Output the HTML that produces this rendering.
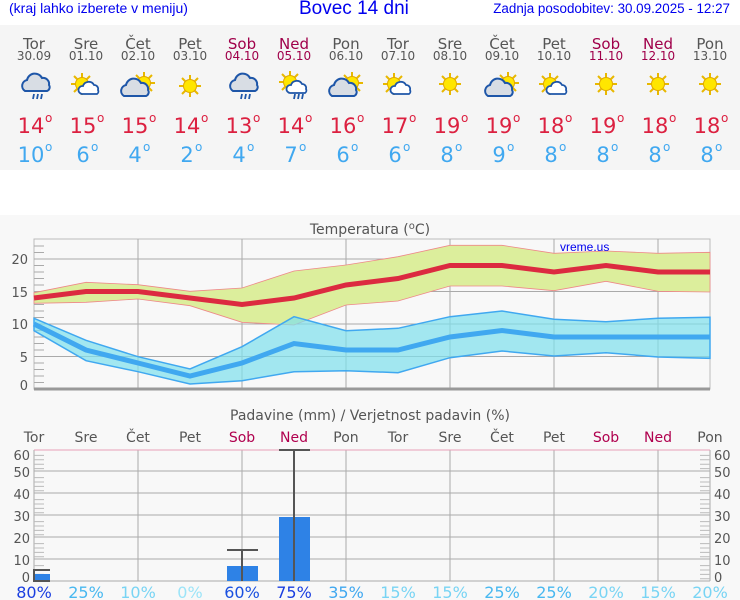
<!DOCTYPE html>
<html><head><meta charset="utf-8"><style>
body{margin:0;width:740px;height:600px;background:#f8f8f8;font-family:"DejaVu Sans","Liberation Sans",sans-serif;overflow:hidden;position:relative}
.top{position:absolute;left:0;top:0;width:740px;height:25px;background:#fff}
.t{position:absolute;white-space:nowrap}
</style></head><body>
<div class="top"></div>
<div class="t" style="left:9px;top:0px;font:14px 'Liberation Sans',sans-serif;color:#0000ee">(kraj lahko izberete v meniju)</div>
<div class="t" style="left:299px;top:-2px;font:19px 'Liberation Sans',sans-serif;color:#0000ee">Bovec 14 dni</div>
<div class="t" style="right:10px;top:1px;font:13.4px 'Liberation Sans',sans-serif;color:#0000ee">Zadnja posodobitev: 30.09.2025 - 12:27</div>
<div class="t" style="left:0;top:170px;width:740px;height:45px;background:#fff"></div>
<svg width="740" height="600" style="position:absolute;left:0;top:0" font-family="DejaVu Sans, Liberation Sans, sans-serif">
<defs>
<g id="sun"><g stroke="#e8b800" stroke-width="2"><line x1="-11" y1="0" x2="11" y2="0"/><line x1="0" y1="-11" x2="0" y2="11"/><line x1="-8" y1="-8" x2="8" y2="8"/><line x1="-8" y1="8" x2="8" y2="-8"/></g><circle r="6.5" fill="#ffe600" stroke="#e0a800"/></g>
<g id="cl"><path d="M-12 6 a6 6 0 0 1 2-11 a8 8 0 0 1 15-2 a6 6 0 0 1 7 7 a4 4 0 0 1-2 6 z" fill="#d8dde4" stroke="#1e56a8" stroke-width="2"/></g>
<g id="scl"><path d="M-8 5 a4 4 0 0 1 1-8 a6 6 0 0 1 11-1 a4 4 0 0 1 4 5 a3 3 0 0 1-1 4 z" fill="#fff" stroke="#1e56a8" stroke-width="1.8"/></g>
<g id="rain"><g stroke="#1e56a8" stroke-width="1.8"><line x1="-3" y1="9" x2="-4" y2="14"/><line x1="1" y1="9" x2="0" y2="14"/><line x1="5" y1="9" x2="4" y2="14"/></g></g>
</defs>
<rect x="0" y="25" width="740" height="145" fill="#f5f5f5"/>
<g font-size="15" fill="#555" text-anchor="middle">
<text x="34" y="49">Tor</text><text x="86" y="49">Sre</text><text x="138" y="49">Čet</text><text x="190" y="49">Pet</text><text x="242" y="49" fill="#a0004a">Sob</text><text x="294" y="49" fill="#a0004a">Ned</text><text x="346" y="49">Pon</text><text x="398" y="49">Tor</text><text x="450" y="49">Sre</text><text x="502" y="49">Čet</text><text x="554" y="49">Pet</text><text x="606" y="49" fill="#a0004a">Sob</text><text x="658" y="49" fill="#a0004a">Ned</text><text x="710" y="49">Pon</text>
</g>
<g font-size="12" fill="#555" text-anchor="middle">
<text x="34" y="60">30.09</text><text x="86" y="60">01.10</text><text x="138" y="60">02.10</text><text x="190" y="60">03.10</text><text x="242" y="60" fill="#a0004a">04.10</text><text x="294" y="60" fill="#a0004a">05.10</text><text x="346" y="60">06.10</text><text x="398" y="60">07.10</text><text x="450" y="60">08.10</text><text x="502" y="60">09.10</text><text x="554" y="60">10.10</text><text x="606" y="60" fill="#a0004a">11.10</text><text x="658" y="60" fill="#a0004a">12.10</text><text x="710" y="60">13.10</text>
</g>
<g transform="translate(37,85)"><use href="#cl"/><use href="#rain"/></g>
<g transform="translate(82,84)"><use href="#sun"/><g transform="translate(8,5)"><use href="#scl"/></g></g>
<g transform="translate(144,83)"><use href="#sun"/></g><g transform="translate(136,90)"><use href="#cl"/></g>
<g transform="translate(190,86)"><use href="#sun"/></g>
<g transform="translate(245,85)"><use href="#cl"/><use href="#rain"/></g>
<g transform="translate(290,82)"><use href="#sun"/><g transform="translate(8,6)"><use href="#scl"/><use href="#rain" transform="translate(0,-3)"/></g></g>
<g transform="translate(352,83)"><use href="#sun"/></g><g transform="translate(344,90)"><use href="#cl"/></g>
<g transform="translate(394,84)"><use href="#sun"/><g transform="translate(8,5)"><use href="#scl"/></g></g>
<g transform="translate(450,84)"><use href="#sun"/></g>
<g transform="translate(508,83)"><use href="#sun"/></g><g transform="translate(500,90)"><use href="#cl"/></g>
<g transform="translate(550,84)"><use href="#sun"/><g transform="translate(8,5)"><use href="#scl"/></g></g>
<g transform="translate(606,84)"><use href="#sun"/></g>
<g transform="translate(658,84)"><use href="#sun"/></g>
<g transform="translate(710,84)"><use href="#sun"/></g>
<g font-size="21" fill="#dc2040" text-anchor="middle">
<text x="31" y="133">14</text><text x="83" y="133">15</text><text x="135" y="133">15</text><text x="187" y="133">14</text><text x="239" y="133">13</text><text x="291" y="133">14</text><text x="343" y="133">16</text><text x="395" y="133">17</text><text x="447" y="133">19</text><text x="499" y="133">19</text><text x="551" y="133">18</text><text x="603" y="133">19</text><text x="655" y="133">18</text><text x="707" y="133">18</text>
</g>
<g font-size="12" fill="#dc2040"><text x="45" y="122">o</text><text x="97" y="122">o</text><text x="149" y="122">o</text><text x="201" y="122">o</text><text x="253" y="122">o</text><text x="305" y="122">o</text><text x="357" y="122">o</text><text x="409" y="122">o</text><text x="461" y="122">o</text><text x="513" y="122">o</text><text x="565" y="122">o</text><text x="617" y="122">o</text><text x="669" y="122">o</text><text x="721" y="122">o</text></g>
<g font-size="21" fill="#40a8f0" text-anchor="middle">
<text x="31" y="162">10</text><text x="83" y="162">6</text><text x="135" y="162">4</text><text x="187" y="162">2</text><text x="239" y="162">4</text><text x="291" y="162">7</text><text x="343" y="162">6</text><text x="395" y="162">6</text><text x="447" y="162">8</text><text x="499" y="162">9</text><text x="551" y="162">8</text><text x="603" y="162">8</text><text x="655" y="162">8</text><text x="707" y="162">8</text>
</g>
<g font-size="12" fill="#40a8f0"><text x="45" y="151">o</text><text x="91" y="151">o</text><text x="143" y="151">o</text><text x="195" y="151">o</text><text x="247" y="151">o</text><text x="299" y="151">o</text><text x="351" y="151">o</text><text x="403" y="151">o</text><text x="455" y="151">o</text><text x="507" y="151">o</text><text x="559" y="151">o</text><text x="611" y="151">o</text><text x="663" y="151">o</text><text x="715" y="151">o</text></g>

<text x="370" y="234" font-size="14" fill="#555" text-anchor="middle">Temperatura (<tspan font-size="10" dy="-5">o</tspan><tspan dy="5">C)</tspan></text>
<rect x="34" y="239" width="676" height="150" fill="#f8f8f8" stroke="#bbb"/>
<g stroke="#aaa" stroke-width="1">
<line x1="34" y1="356.5" x2="710" y2="356.5"/><line x1="34" y1="324" x2="710" y2="324"/><line x1="34" y1="291.5" x2="710" y2="291.5"/><line x1="34" y1="259" x2="710" y2="259"/>
<line x1="138" y1="239" x2="138" y2="389"/><line x1="242" y1="239" x2="242" y2="389"/><line x1="346" y1="239" x2="346" y2="389"/><line x1="450" y1="239" x2="450" y2="389"/><line x1="554" y1="239" x2="554" y2="389"/><line x1="658" y1="239" x2="658" y2="389"/>
</g>
<g stroke="#aaa" stroke-width="1">
<line x1="34" y1="382.5" x2="44" y2="382.5"/><line x1="34" y1="376" x2="44" y2="376"/><line x1="34" y1="369.5" x2="44" y2="369.5"/><line x1="34" y1="363" x2="44" y2="363"/>
<line x1="34" y1="350" x2="44" y2="350"/><line x1="34" y1="343.5" x2="44" y2="343.5"/><line x1="34" y1="337" x2="44" y2="337"/><line x1="34" y1="330.5" x2="44" y2="330.5"/>
<line x1="34" y1="317.5" x2="44" y2="317.5"/><line x1="34" y1="311" x2="44" y2="311"/><line x1="34" y1="304.5" x2="44" y2="304.5"/><line x1="34" y1="298" x2="44" y2="298"/>
<line x1="34" y1="285" x2="44" y2="285"/><line x1="34" y1="278.5" x2="44" y2="278.5"/><line x1="34" y1="272" x2="44" y2="272"/><line x1="34" y1="265.5" x2="44" y2="265.5"/>
<line x1="34" y1="252.5" x2="44" y2="252.5"/><line x1="34" y1="246" x2="44" y2="246"/>
</g>
<polygon fill="#dcee9c" stroke="#e88" stroke-width="0.8" points="34,292.7 86,282.3 138,284.7 190,291.3 242,288 294,271 346,265 398,256.7 450,245.3 502,245.3 554,253.3 606,251 658,253.3 710,252.3 710,292 658,291.3 606,281.3 554,290.7 502,286 450,286 398,301 346,305 294,325 242,322.3 190,305.7 138,299 86,302.3 34,303.3"/>
<polygon fill="#7ee0ec" fill-opacity="0.7" stroke="#40a8f0" stroke-width="1.5" points="34,318.3 86,340.3 138,356.7 190,369 242,346.7 294,316.7 346,330.7 398,328.3 450,316.7 502,311 554,319.3 606,321.7 658,318.3 710,317.3 710,358.3 658,357 606,352.7 554,356 502,351 450,357.7 398,372.7 346,370.7 294,371.7 242,380.7 190,384 138,371.7 86,360.7 34,330.7"/>
<polyline fill="none" stroke="#dc2a40" stroke-width="5" points="34,298 86,291.5 138,291.5 190,298 242,304.5 294,298 346,285 398,278.5 450,265.5 502,265.5 554,272 606,265.5 658,272 710,272"/>
<polyline fill="none" stroke="#40a8f0" stroke-width="5" points="34,324 86,350 138,363 190,376 242,363 294,343.5 346,350 398,350 450,337 502,330.5 554,337 606,337 658,337 710,337"/>
<line x1="34" y1="389" x2="710" y2="389" stroke="#999" stroke-width="3"/>
<text x="560" y="251" font-size="12" fill="#0000ee" font-family="Liberation Sans, sans-serif">vreme.us</text>
<g font-size="13" fill="#555" text-anchor="end"><text x="28" y="264">20</text><text x="28" y="297">15</text><text x="28" y="329">10</text><text x="28" y="362">5</text><text x="28" y="390">0</text></g>

<text x="370" y="420" font-size="14" fill="#555" text-anchor="middle">Padavine (mm) / Verjetnost padavin (%)</text>
<g font-size="14" fill="#555" text-anchor="middle">
<text x="34" y="442">Tor</text><text x="86" y="442">Sre</text><text x="138" y="442">Čet</text><text x="190" y="442">Pet</text><text x="242" y="442" fill="#b0004e">Sob</text><text x="294" y="442" fill="#b0004e">Ned</text><text x="346" y="442">Pon</text><text x="398" y="442">Tor</text><text x="450" y="442">Sre</text><text x="502" y="442">Čet</text><text x="554" y="442">Pet</text><text x="606" y="442" fill="#b0004e">Sob</text><text x="658" y="442" fill="#b0004e">Ned</text><text x="710" y="442">Pon</text>
</g>
<rect x="34" y="450" width="676" height="131" fill="#f8f8f8"/>
<g stroke="#aaa"><line x1="34" y1="471" x2="710" y2="471"/><line x1="34" y1="493" x2="710" y2="493"/><line x1="34" y1="515" x2="710" y2="515"/><line x1="34" y1="537" x2="710" y2="537"/><line x1="34" y1="559" x2="710" y2="559"/><line x1="34" y1="581" x2="710" y2="581"/>
<line x1="34" y1="450" x2="34" y2="581"/><line x1="138" y1="450" x2="138" y2="581"/><line x1="242" y1="450" x2="242" y2="581"/><line x1="346" y1="450" x2="346" y2="581"/><line x1="450" y1="450" x2="450" y2="581"/><line x1="554" y1="450" x2="554" y2="581"/><line x1="658" y1="450" x2="658" y2="581"/><line x1="710" y1="450" x2="710" y2="581"/></g>
<g stroke="#bbb" stroke-dasharray="1 3.4"><line x1="34" y1="451" x2="34" y2="581" stroke-width="0"/></g>
<g stroke="#bbb"><path d="M34 455.4h10M34 459.8h10M34 464.2h10M34 468.6h10M34 477.6h10M34 482h10M34 486.4h10M34 490.8h10M34 499.6h10M34 504h10M34 508.4h10M34 512.8h10M34 521.6h10M34 526h10M34 530.4h10M34 534.8h10M34 543.6h10M34 548h10M34 552.4h10M34 556.8h10M34 565.6h10M34 570h10M34 574.4h10M34 578.8h10"/>
<path d="M700 455.4h10M700 459.8h10M700 464.2h10M700 468.6h10M700 477.6h10M700 482h10M700 486.4h10M700 490.8h10M700 499.6h10M700 504h10M700 508.4h10M700 512.8h10M700 521.6h10M700 526h10M700 530.4h10M700 534.8h10M700 543.6h10M700 548h10M700 552.4h10M700 556.8h10M700 565.6h10M700 570h10M700 574.4h10M700 578.8h10"/></g>
<line x1="34" y1="450" x2="710" y2="450" stroke="#e8a0b8"/>
<rect x="34" y="574" width="16" height="7" fill="#2e82e6"/>
<rect x="227" y="566" width="31" height="15" fill="#2e82e6"/>
<rect x="279" y="517" width="31" height="64" fill="#2e82e6"/>
<g stroke="#555" stroke-width="2" fill="none">
<path d="M50 570 H34 V581 H50"/>
<line x1="242" y1="550" x2="242" y2="581"/><line x1="227" y1="550" x2="258" y2="550"/>
<line x1="294" y1="450" x2="294" y2="581"/><line x1="279" y1="450" x2="310" y2="450"/>
</g>
<g font-size="13" fill="#555" text-anchor="end"><text x="30" y="460">60</text><text x="30" y="477">50</text><text x="30" y="499">40</text><text x="30" y="521">30</text><text x="30" y="543">20</text><text x="30" y="565">10</text><text x="30" y="582">0</text></g>
<g font-size="13" fill="#555"><text x="714" y="460">60</text><text x="714" y="477">50</text><text x="714" y="499">40</text><text x="714" y="521">30</text><text x="714" y="543">20</text><text x="714" y="565">10</text><text x="714" y="582">0</text></g>
<g font-size="16" text-anchor="middle">
<text x="34" y="598" fill="#1a3ee0">80%</text><text x="86" y="598" fill="#48b8f0">25%</text><text x="138" y="598" fill="#78d4f4">10%</text><text x="190" y="598" fill="#9ce4f8">0%</text><text x="242" y="598" fill="#1a50e0">60%</text><text x="294" y="598" fill="#1a3ee0">75%</text><text x="346" y="598" fill="#40a8f0">35%</text><text x="398" y="598" fill="#78d4f4">15%</text><text x="450" y="598" fill="#78d4f4">15%</text><text x="502" y="598" fill="#48b8f0">25%</text><text x="554" y="598" fill="#48b8f0">25%</text><text x="606" y="598" fill="#78d4f4">20%</text><text x="658" y="598" fill="#78d4f4">15%</text><text x="710" y="598" fill="#78d4f4">20%</text>
</g>
</svg>
</body></html>
